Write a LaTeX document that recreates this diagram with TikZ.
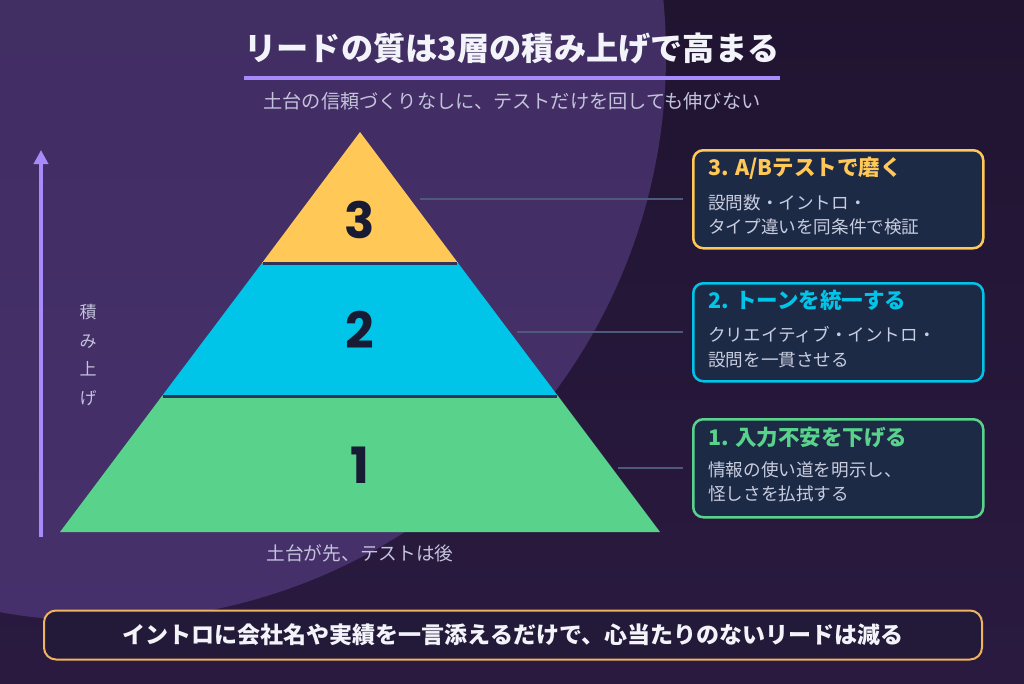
\documentclass[tikz,border=0pt]{standalone}
\usepackage{fontspec}
\usetikzlibrary{arrows.meta}
\newfontfamily\jp{Noto Sans CJK JP}
\newfontfamily\numf{Poppins}
\definecolor{bgtop}{HTML}{201431}
\definecolor{bgbot}{HTML}{2A1A40}
\definecolor{circtop}{HTML}{3D2C5C}
\definecolor{circbot}{HTML}{46306B}
\definecolor{accent}{HTML}{A78BFA}
\definecolor{cthree}{HTML}{FFC857}
\definecolor{ctwo}{HTML}{00C4E8}
\definecolor{cone}{HTML}{59D38B}
\definecolor{sepc}{HTML}{2E3358}
\definecolor{numc}{HTML}{171B33}
\definecolor{boxfill}{HTML}{1D2A45}
\definecolor{bodyc}{HTML}{C8CDE0}
\definecolor{connc}{HTML}{4D5A7C}
\definecolor{subc}{HTML}{C4C3DC}
\definecolor{barb}{HTML}{F2B35E}
\definecolor{barf}{HTML}{231938}
\definecolor{titlec}{HTML}{F3F4FA}
\tikzset{
  infobox/.style={rounded corners=10pt, line width=2.5pt, fill=boxfill, minimum width=290pt, minimum height=98pt, anchor=north west, inner sep=0pt},
  boxtitle/.style={anchor=west, inner sep=0pt, font=\jp\bfseries\fontsize{21.5}{24}\selectfont},
  boxbody/.style={anchor=west, inner sep=0pt, align=left, text=bodyc, font=\jp\fontsize{17.6}{24.5}\selectfont},
  tiernum/.style={text=numc, inner sep=0pt, font=\numf\bfseries\fontsize{50}{50}\selectfont},
  conn/.style={draw=connc, line width=1.5pt},
  sepline/.style={draw=sepc, line width=3pt},
}
\begin{document}
\begin{tikzpicture}[x=1pt,y=-1pt]
\useasboundingbox (0,0) rectangle (1024,683);
\clip (0,0) rectangle (1024,683);
\shade[top color=bgtop, bottom color=bgbot] (0,0) rectangle (1024,683);
\shade[top color=circtop, bottom color=circbot] (100,55) circle (566pt);

% title
\node[text=titlec, inner sep=0pt, font=\jp\bfseries\fontsize{32.2}{32}\selectfont] (title) at (512,48) {リードの質は3層の積み上げで高まる};
\coordinate (ulA) at (244,78);
\coordinate (ulB) at (780,78);
\draw[accent, line width=4pt] (ulA) -- (ulB);
\node[text=subc, inner sep=0pt, font=\jp\fontsize{19.2}{19.2}\selectfont] (subtitle) at (512,101) {土台の信頼づくりなしに、テストだけを回しても伸びない};

% pyramid
\fill[cthree] (360,132) -- (458,263) -- (262,263) -- cycle;
\fill[ctwo] (262,263) -- (458,263) -- (558,396) -- (162,396) -- cycle;
\fill[cone] (162,396) -- (558,396) -- (660,532) -- (60,532) -- cycle;
\draw[sepline] (263,263) -- (457,263);
\draw[sepline] (163,396) -- (557,396);
\node[tiernum] (n3) at (360,220) {3};
\node[tiernum] (n2) at (360,330) {2};
\node[tiernum] (n1) at (360,465) {1};

% left arrow
\coordinate (arA) at (41,537);
\coordinate (arB) at (41,150);
\draw[accent, line width=4pt, -{Triangle[width=14pt,length=14pt]}] (arA) -- (arB);
\node[text=subc, inner sep=0pt, align=center, font=\jp\fontsize{17}{28.7}\selectfont] (stack) at (88,355) {積\\み\\上\\げ};

\node[text=subc, inner sep=0pt, font=\jp\fontsize{18.7}{18.7}\selectfont] (base) at (360,553) {土台が先、テストは後};

% connectors
\coordinate (c3a) at (420,199); \coordinate (c3b) at (683,199);
\coordinate (c2a) at (517,332); \coordinate (c2b) at (683,332);
\coordinate (c1a) at (618,468); \coordinate (c1b) at (683,468);
\draw[conn] (c3a) -- (c3b);
\draw[conn] (c2a) -- (c2b);
\draw[conn] (c1a) -- (c1b);

% boxes
\node[infobox, draw=cthree] (b3) at (692,149) {};
\node[boxtitle, text=cthree] (t3) at (708,168) {3. A/Bテストで磨く};
\node[boxbody] (d3) at (708,215) {設問数・イントロ・\\タイプ違いを同条件で検証};

\node[infobox, draw=ctwo] (b2) at (692,282) {};
\node[boxtitle, text=ctwo] (t2) at (708,300) {2. トーンを統一する};
\node[boxbody] (d2) at (708,347) {クリエイティブ・イントロ・\\設問を一貫させる};

\node[infobox, draw=cone] (b1) at (692,418) {};
\node[boxtitle, text=cone] (t1) at (708,437) {1. 入力不安を下げる};
\node[boxbody] (d1) at (708,482) {情報の使い道を明示し、\\怪しさを払拭する};

% bottom bar
\node[draw=barb, fill=barf, line width=2pt, rounded corners=12pt, minimum width=938pt, minimum height=49pt, inner sep=0pt] (bar) at (513,635) {};
\node[text=titlec, inner sep=0pt, font=\jp\bfseries\fontsize{23}{23}\selectfont] (bartext) at (513,635) {イントロに会社名や実績を一言添えるだけで、心当たりのないリードは減る};
\end{tikzpicture}
\end{document}
